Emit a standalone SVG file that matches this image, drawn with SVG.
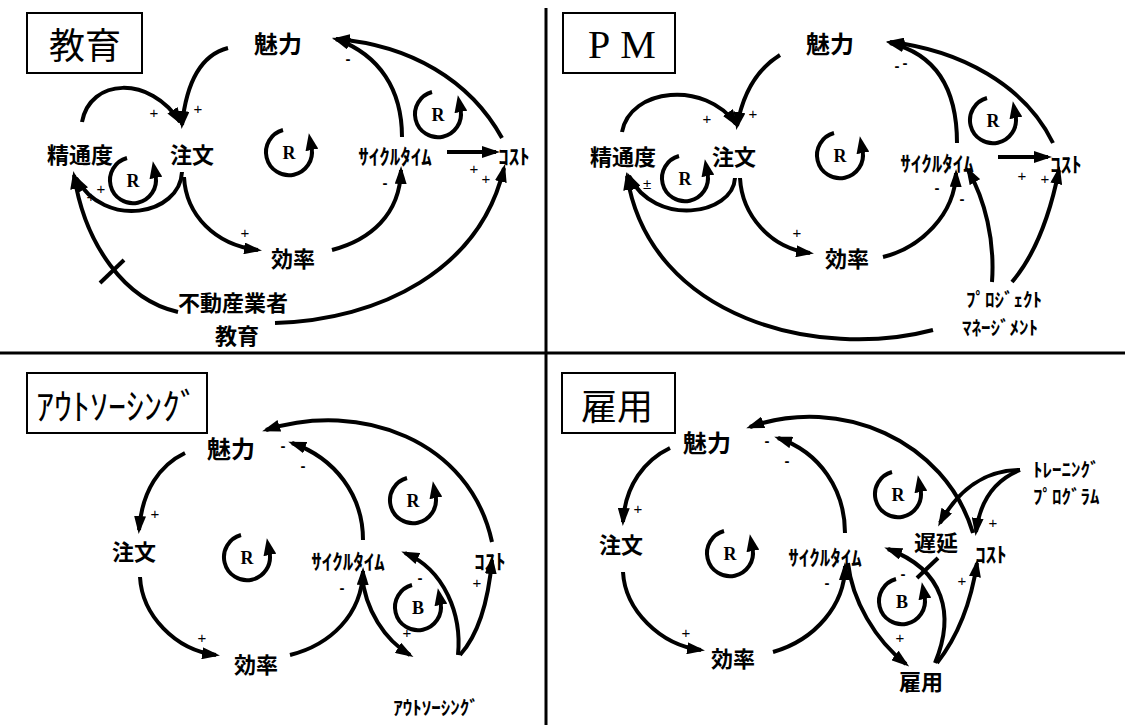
<svg xmlns="http://www.w3.org/2000/svg" xmlns:xlink="http://www.w3.org/1999/xlink" width="1125" height="725" viewBox="0 0 1125 725">
<style>
.n{font-family:"Noto Sans CJK JP",sans-serif;font-weight:bold;font-size:22px;text-anchor:middle;dominant-baseline:central;fill:#000}
.m{font-size:24px}
.h{font-family:"Noto Sans CJK JP",sans-serif;font-weight:bold;font-size:21px;text-anchor:middle;dominant-baseline:central;fill:#000}
.t{font-family:"Noto Sans CJK JP",sans-serif;font-weight:normal;font-size:36px;text-anchor:middle;dominant-baseline:central;fill:#000}
.s{font-family:"Liberation Sans",sans-serif;font-size:15px;text-anchor:middle;dominant-baseline:central;fill:#000}
.d{font-family:"Liberation Sans",sans-serif;font-size:15px;font-weight:bold;text-anchor:middle;dominant-baseline:central;fill:#000}
.r{font-family:"Liberation Serif",serif;font-weight:bold;font-size:18px;text-anchor:middle;dominant-baseline:central;fill:#000}
.c{fill:none;stroke:#000;stroke-width:4;marker-end:url(#ah)}
.x{fill:none;stroke:#000;stroke-width:4}
.box{fill:#fff;stroke:#000;stroke-width:2}
.div{stroke:#000;stroke-width:3}
</style>
<defs>
<marker id="ah" viewBox="0 -6 18 12" refX="14" refY="0" markerWidth="18" markerHeight="12" markerUnits="userSpaceOnUse" orient="auto"><path d="M0,-6 L18,0 L0,6 z" fill="#000"/></marker>
<marker id="lah" viewBox="0 -6.5 17 13" refX="2" refY="0" markerWidth="17" markerHeight="13" markerUnits="userSpaceOnUse" orient="auto"><path d="M0,-6.5 L17,0 L0,6.5 z" fill="#000"/></marker>
<path id="lp" d="M-6,-22 A23,23 0 1,0 22.6,-4" fill="none" stroke="#000" stroke-width="4" marker-end="url(#lah)"/>
</defs>
<rect width="1125" height="725" fill="#fff"/>

<g id="dividers">
<line class="div" x1="0" y1="353" x2="1125" y2="353"/>
<line class="div" x1="546" y1="8" x2="546" y2="725"/>
</g>

<!-- Quadrant 1: 教育 -->
<g id="q1-title"><rect class="box" x="27" y="13" width="115" height="60"/><text class="t" x="85" y="43">教育</text></g>
<g id="q1-miryoku"><text class="n m" x="278" y="42">魅力</text></g>
<g id="q1-chumon"><text class="n" x="192" y="153">注文</text></g>
<g id="q1-seitsudo"><text class="n" x="80" y="153">精通度</text></g>
<g id="q1-koritsu"><text class="n" x="293" y="257">効率</text></g>
<g id="q1-cycle"><text class="h" x="395" y="155">ｻｲｸﾙﾀｲﾑ</text></g>
<g id="q1-cost"><text class="h" x="514" y="155">ｺｽﾄ</text></g>
<g id="q1-kyoiku"><text class="n" x="233" y="301">不動産業者</text><text class="n" x="237" y="334">教育</text></g>

<!-- Quadrant 2: PM -->
<g id="q2-title"><rect class="box" x="563" y="13" width="112" height="60"/><text x="588" y="58" font-family="Liberation Serif, serif" font-size="40" letter-spacing="10">PM</text></g>
<g id="q2-miryoku"><text class="n m" x="830" y="42">魅力</text></g>
<g id="q2-chumon"><text class="n" x="734" y="155">注文</text></g>
<g id="q2-seitsudo"><text class="n" x="623" y="155">精通度</text></g>
<g id="q2-koritsu"><text class="n" x="847" y="257">効率</text></g>
<g id="q2-cycle"><text class="h" x="937" y="162">ｻｲｸﾙﾀｲﾑ</text></g>
<g id="q2-cost"><text class="h" x="1066" y="163">ｺｽﾄ</text></g>
<g id="q2-pm"><text class="h" x="1004" y="298" style="font-size:19px">ﾌﾟﾛｼﾞｪｸﾄ</text><text class="h" x="1000" y="326" style="font-size:19px">ﾏﾈｰｼﾞﾒﾝﾄ</text></g>

<!-- Quadrant 3: アウトソーシング -->
<g id="q3-title"><rect class="box" x="27" y="373" width="180" height="60"/><text class="t" x="117" y="404">ｱｳﾄｿｰｼﾝｸﾞ</text></g>
<g id="q3-miryoku"><text class="n m" x="231" y="447">魅力</text></g>
<g id="q3-chumon"><text class="n" x="134" y="550">注文</text></g>
<g id="q3-koritsu"><text class="n" x="256" y="663">効率</text></g>
<g id="q3-cycle"><text class="h" x="348" y="560">ｻｲｸﾙﾀｲﾑ</text></g>
<g id="q3-cost"><text class="h" x="490" y="560">ｺｽﾄ</text></g>
<g id="q3-outsourcing"><text class="h" x="436" y="706" style="font-size:19px">ｱｳﾄｿｰｼﾝｸﾞ</text></g>

<!-- Quadrant 4: 雇用 -->
<g id="q4-title"><rect class="box" x="562" y="373" width="113" height="60"/><text class="t" x="617" y="404">雇用</text></g>
<g id="q4-miryoku"><text class="n m" x="707" y="441">魅力</text></g>
<g id="q4-chumon"><text class="n" x="621" y="543">注文</text></g>
<g id="q4-koritsu"><text class="n" x="733" y="657">効率</text></g>
<g id="q4-cycle"><text class="h" x="825" y="556">ｻｲｸﾙﾀｲﾑ</text></g>
<g id="q4-chien"><text class="n" x="936" y="541">遅延</text></g>
<g id="q4-cost"><text class="h" x="991" y="553">ｺｽﾄ</text></g>
<g id="q4-koyo"><text class="n" x="921" y="680">雇用</text></g>
<g id="q4-training"><text class="h" x="1033" y="468" style="text-anchor:start;font-size:19px">ﾄﾚｰﾆﾝｸﾞ</text><text class="h" x="1033" y="495" style="text-anchor:start;font-size:19px">ﾌﾟﾛｸﾞﾗﾑ</text></g>

<!-- loop symbols -->
<g id="loops">
<use xlink:href="#lp" x="289" y="152"/><text class="r" x="289" y="153">R</text>
<use xlink:href="#lp" x="133" y="180"/><text class="r" x="133" y="181">R</text>
<use xlink:href="#lp" x="438" y="114"/><text class="r" x="438" y="115">R</text>
<use xlink:href="#lp" x="840" y="155"/><text class="r" x="840" y="156">R</text>
<use xlink:href="#lp" x="685" y="178"/><text class="r" x="685" y="179">R</text>
<use xlink:href="#lp" x="993" y="120"/><text class="r" x="993" y="121">R</text>
<use xlink:href="#lp" x="247" y="557"/><text class="r" x="247" y="558">R</text>
<use xlink:href="#lp" x="413" y="500"/><text class="r" x="413" y="501">R</text>
<use xlink:href="#lp" x="418" y="607"/><text class="r" x="418" y="608">B</text>
<use xlink:href="#lp" x="730" y="553"/><text class="r" x="730" y="554">R</text>
<use xlink:href="#lp" x="898" y="494"/><text class="r" x="898" y="495">R</text>
<use xlink:href="#lp" x="902" y="601"/><text class="r" x="902" y="602">B</text>
</g>

<g id="connectors">
<!-- Q1 -->
<path class="c" d="M228,48 Q189,58 182,125"/>
<path class="c" d="M82,122 C90,78 150,75 180,122"/>
<path class="c" d="M182,172 C180,215 105,230 76,178"/>
<path class="c" d="M184,177 C186,215 215,245 258,250"/>
<path class="c" d="M332,250 C370,240 400,215 401,170"/>
<path class="c" d="M402,137 C402,90 380,55 336,39"/>
<path class="c" d="M502,138 C470,80 410,45 336,39"/>
<path class="c" d="M275,323 C380,320 480,270 504,168"/>
<path class="c" d="M178,312 C125,300 85,245 74,175"/>
<path class="c" d="M447,152 L496,152"/>
<line class="x" x1="100" y1="283" x2="124" y2="260"/>
<!-- Q2 -->
<path class="c" d="M780,55 Q746,76 737,126"/>
<path class="c" d="M622,132 C630,88 705,80 736,124"/>
<path class="c" d="M735,178 C733,215 655,228 629,176"/>
<path class="c" d="M740,178 C742,215 770,248 810,253"/>
<path class="c" d="M933,330 C820,360 650,320 627,176"/>
<path class="c" d="M883,257 C920,248 955,215 956,173"/>
<path class="c" d="M957,143 C957,95 940,55 890,43"/>
<path class="c" d="M1053,143 C1025,85 960,50 890,42"/>
<path class="c" d="M992,282 C995,240 985,200 968,170"/>
<path class="c" d="M1012,282 C1035,255 1050,215 1059,170"/>
<path class="c" d="M998,157 L1048,157"/>
<!-- Q3 -->
<path class="c" d="M185,453 C160,465 142,490 139,530"/>
<path class="c" d="M140,577 C142,615 175,650 216,655"/>
<path class="c" d="M290,655 C330,645 362,615 363,571"/>
<path class="c" d="M363,540 C363,495 335,458 292,443"/>
<path class="c" d="M492,542 C470,440 360,400 266,430"/>
<path class="c" d="M362,575 C365,610 385,640 410,655"/>
<path class="c" d="M458,655 C462,615 445,570 405,553"/>
<path class="c" d="M460,655 C478,635 488,605 492,560"/>
<!-- Q4 -->
<path class="c" d="M670,448 C645,460 625,485 623,522"/>
<path class="c" d="M623,572 C625,610 660,645 701,650"/>
<path class="c" d="M773,652 C815,640 845,605 845,566"/>
<path class="c" d="M845,533 C845,490 820,452 778,438"/>
<path class="c" d="M973,533 C945,440 840,395 750,427"/>
<path class="c" d="M848,563 C852,600 875,640 906,664"/>
<path class="c" d="M935,663 C955,615 945,570 888,549"/>
<path class="c" d="M937,663 C955,640 970,610 977,563"/>
<path class="c" d="M1020,470 C985,470 958,490 940,523"/>
<path class="c" d="M1020,470 C995,480 980,500 976,532"/>
<line class="x" x1="917" y1="578" x2="938" y2="558"/>
</g>

<g id="signs">
<!-- Q1 -->
<text class="s" x="154" y="112">+</text><text class="s" x="198" y="108">+</text>
<text class="s" x="91" y="196">+</text><text class="s" x="101" y="188">+</text>
<text class="s" x="245" y="232">+</text>
<text class="d" x="385" y="182">-</text>
<text class="d" x="348" y="58">-</text>
<text class="s" x="474" y="168">+</text><text class="s" x="486" y="178">+</text>
<!-- Q2 -->
<text class="s" x="707" y="118">+</text><text class="s" x="753" y="113">+</text>
<text class="s" x="647" y="183">±</text>
<text class="s" x="797" y="232">+</text>
<text class="d" x="937" y="187">-</text>
<text class="d" x="897" y="65">-</text><text class="d" x="905" y="62">-</text>
<text class="d" x="962" y="198">-</text>
<text class="s" x="1022" y="175">+</text><text class="s" x="1045" y="178">+</text>
<!-- Q3 -->
<text class="s" x="155" y="513">+</text>
<text class="s" x="202" y="637">+</text>
<text class="d" x="342" y="587">-</text>
<text class="d" x="283" y="445">-</text><text class="d" x="303" y="465">-</text>
<text class="d" x="420" y="577">-</text>
<text class="s" x="477" y="582">+</text>
<text class="s" x="407" y="632">+</text>
<!-- Q4 -->
<text class="s" x="638" y="508">+</text>
<text class="s" x="686" y="632">+</text>
<text class="d" x="827" y="582">-</text>
<text class="d" x="767" y="440">-</text><text class="d" x="787" y="460">-</text>
<text class="s" x="900" y="637">+</text>
<text class="d" x="903" y="573">-</text>
<text class="s" x="962" y="580">+</text>
<text class="s" x="993" y="522">+</text>
</g>
</svg>
